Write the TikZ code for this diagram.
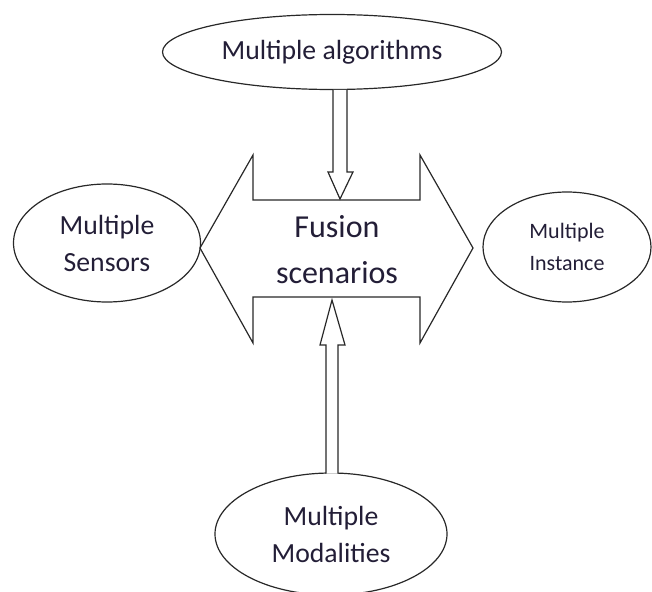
\documentclass[tikz,border=0pt]{standalone}
\usepackage{fontspec}
\setmainfont{Carlito}
\usetikzlibrary{
    shapes.geometric,
    calc
}
\definecolor{inkgray}{RGB}{40,40,40}
\definecolor{textdark}{RGB}{35,30,55}

\begin{document}
\begin{tikzpicture}[x=1pt, y=-1pt,
    blob/.style={ellipse, draw=inkgray, line width=1.2pt, inner sep=0pt,
                 align=center, text=textdark},
    hollow/.style={draw=inkgray, line width=1.2pt, fill=white, line join=miter},
    bigfont/.style={font=\fontsize{27.7}{37}\selectfont},
    smallfont/.style={font=\fontsize{22}{32}\selectfont}]
    \useasboundingbox (0,0) rectangle (652,591);

    %% Central double arrow
        \draw[hollow] (200,248) -- (253,155) -- (253,200) -- (420,200)
              -- (420,155) -- (473,248) -- (420,343) -- (420,297)
              -- (253,297) -- (253,343) -- cycle;
        \node[font=\fontsize{32}{46}\selectfont, align=center, text=textdark]
              (fusion) at (337,250) {Fusion\\scenarios};
        \coordinate (topIn) at (340,199);
        \coordinate (botIn) at (332,300);

    %% Ellipses
        \node[blob, bigfont, minimum width=339pt, minimum height=75pt]
              (algo) at (332,52) {Multiple algorithms};
        \node[blob, bigfont, minimum width=187pt, minimum height=118pt]
              (sensors) at (107,243) {Multiple\\Sensors};
        \node[blob, smallfont, minimum width=168pt, minimum height=110pt]
              (instance) at (567,247) {Multiple\\Instance};
        \node[blob, bigfont, minimum width=232pt, minimum height=122pt]
              (modal) at (331,534) {Multiple\\Modalities};

    %% Hollow arrows
        \draw[hollow] (333,90) -- (333,172) -- (328,172) -- (topIn)
              -- (353,172) -- (347,172) -- (347,90);
        \draw[hollow] (326,473.5) -- (326,345) -- (320,345) -- (botIn)
              -- (345,345) -- (338,345) -- (338,473.5);
\end{tikzpicture}
\end{document}
